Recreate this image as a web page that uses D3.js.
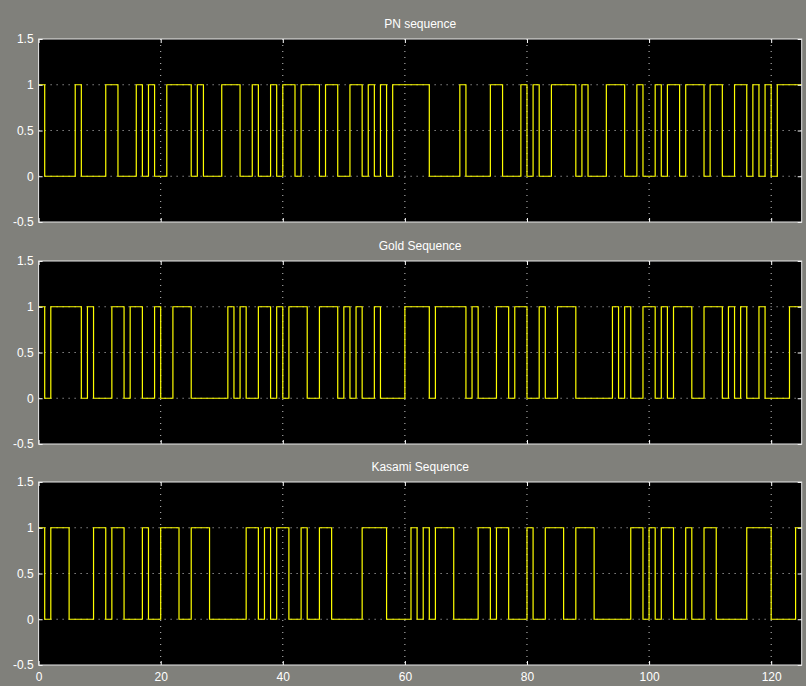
<!DOCTYPE html>
<html>
<head>
<meta charset="utf-8">
<script src="https://cdn.jsdelivr.net/npm/d3@7"></script>
<style>
  html, body { margin: 0; padding: 0; background: #80807b; }
  svg { display: block; }
  .tick text { font-family: "Liberation Sans", Arial, sans-serif; font-size: 12px; fill: #ffffff; }
</style>
</head>
<body>
<svg id="scope" width="806" height="686"></svg>
<script>
// bit values, one per sample 0..124
const pnBits = [
  1,0,0,0,0,0,1,0,0,0, 0,1,1,0,0,0,1,0,1,0, 0,1,1,1,1,0,1,0,0,0, 1,1,1,0,0,1,0,0,1,0,
  1,1,0,1,1,1,0,1,1,0, 0,1,1,0,1,0,1,0,1,1, 1,1,1,1,0,0,0,0,0,1, 0,0,0,0,1,1,0,0,0,1,
  0,1,0,0,1,1,1,1,0,1, 0,0,0,1,1,1,0,0,1,0, 0,1,0,1,1,0,1,1,1,0, 1,1,0,0,1,1,0,1,0,1,
  0,1,1,1,1
];
const goldBits = [
  1,0,1,1,1,1,1,0,1,0, 0,0,1,1,0,1,1,0,0,1, 0,0,1,1,1,0,0,0,0,0, 0,1,0,1,0,0,1,1,0,1,
  0,1,1,1,0,0,1,1,1,0, 1,0,1,0,0,1,0,0,0,0, 1,1,1,1,0,1,1,1,1,1, 0,1,0,0,0,1,1,0,1,1,
  0,0,1,0,0,1,1,1,0,0, 0,0,0,0,1,0,1,0,0,1, 1,0,1,0,1,1,1,0,0,1, 1,1,0,1,0,1,0,0,1,0,
  0,0,0,1,1
];
const kasamiBits = [
  1,0,1,1,1,0,0,0,0,1, 1,0,1,1,0,0,0,1,0,0, 1,1,1,0,0,1,1,1,0,0, 0,0,0,0,1,1,0,1,0,1,
  1,0,0,1,0,0,1,1,0,0, 0,0,0,1,1,1,1,0,0,0, 0,1,0,1,0,1,1,1,0,0, 0,0,1,1,0,1,1,0,0,0,
  1,0,0,1,1,1,0,0,1,1, 1,0,0,0,0,0,0,1,1,0, 1,0,1,1,0,0,1,0,0,1, 1,0,0,0,0,0,1,1,1,1,
  0,0,0,0,1
];
const titles = [ "PN sequence", "Gold Sequence", "Kasami Sequence" ];
const xTicks = [ 0, 20, 40, 60, 80, 100, 120 ];
const yTicks = [ -0.5, 0, 0.5, 1, 1.5 ];
const gridX = [ 20, 40, 60, 80, 100, 120 ];
const gridY = [ 0, 0.5, 1 ];

const svg = d3.select( "#scope" );
const LEFT = 38.6;
const RIGHT = 801.7;
const panelTops = [ 39, 261, 482 ];
const PANEL_H = 183;

const x = d3.scaleLinear().domain( [ 0, 125 ] ).range( [ LEFT, RIGHT ] );

const series = [ pnBits, goldBits, kasamiBits ];

series.forEach( ( bits, i ) => {
  const top = panelTops[i];
  const y = d3.scaleLinear().domain( [ -0.5, 1.5 ] ).range( [ top + PANEL_H, top ] );
  const g = svg.append( "g" );

  g.append( "rect" )
    .attr( "x", LEFT ).attr( "y", top )
    .attr( "width", RIGHT - LEFT ).attr( "height", PANEL_H )
    .attr( "fill", "#000" );

  // dotted grid
  g.selectAll( "line.gx" ).data( gridX ).enter().append( "line" )
    .attr( "x1", d => x( d ) ).attr( "x2", d => x( d ) )
    .attr( "y1", top ).attr( "y2", top + PANEL_H )
    .attr( "stroke", "#c8c8c8" ).attr( "stroke-width", 1 )
    .attr( "stroke-dasharray", "1,5" );
  g.selectAll( "line.gy" ).data( gridY ).enter().append( "line" )
    .attr( "x1", LEFT ).attr( "x2", RIGHT )
    .attr( "y1", d => y( d ) ).attr( "y2", d => y( d ) )
    .attr( "stroke", "#c8c8c8" ).attr( "stroke-width", 1 )
    .attr( "stroke-dasharray", "1,5" );

  const pts = bits.map( ( v, k ) => [ k, v ] );
  pts.push( [ bits.length, bits[bits.length - 1] ] );

  const line = d3.line()
    .x( d => x( d[0] ) )
    .y( d => y( d[1] ) )
    .curve( d3.curveStepAfter );

  g.append( "path" )
    .attr( "d", line( pts ) )
    .attr( "fill", "none" )
    .attr( "stroke", "#ffff00" )
    .attr( "stroke-width", 1.2 );

  // axes with inward ticks
  const yAxis = d3.axisLeft( y ).tickValues( yTicks ).tickSizeInner( -4 ).tickSizeOuter( 0 ).tickPadding( 6 )
    .tickFormat( d3.format( "" ) );
  const ya = g.append( "g" ).attr( "transform", `translate(${LEFT},0)` ).call( yAxis );
  ya.select( ".domain" ).remove();
  ya.selectAll( "line" ).attr( "stroke", "#fff" );
  ya.selectAll( "text" ).attr( "x", -5 ).text( d => d === -0.5 ? "-0.5" : d );

  const yr = g.append( "g" ).attr( "transform", `translate(${RIGHT},0)` )
    .call( d3.axisRight( y ).tickValues( yTicks ).tickSizeInner( -4 ).tickSizeOuter( 0 ).tickFormat( "" ) );
  yr.select( ".domain" ).remove();
  yr.selectAll( "line" ).attr( "stroke", "#fff" );

  const xt = g.append( "g" ).attr( "transform", `translate(0,${top})` )
    .call( d3.axisTop( x ).tickValues( xTicks ).tickSizeInner( -4 ).tickSizeOuter( 0 ).tickFormat( "" ) );
  xt.select( ".domain" ).remove();
  xt.selectAll( "line" ).attr( "stroke", "#fff" );

  const xb = g.append( "g" ).attr( "transform", `translate(0,${top + PANEL_H})` )
    .call( d3.axisBottom( x ).tickValues( xTicks ).tickSizeInner( -4 ).tickSizeOuter( 0 ).tickPadding( 7 )
      .tickFormat( i === 2 ? d3.format( "d" ) : "" ) );
  xb.select( ".domain" ).remove();
  xb.selectAll( "line" ).attr( "stroke", "#fff" );

  g.append( "rect" )
    .attr( "x", LEFT ).attr( "y", top )
    .attr( "width", RIGHT - LEFT ).attr( "height", PANEL_H )
    .attr( "fill", "none" ).attr( "stroke", "#e8e8e8" ).attr( "stroke-width", 1 );

  g.append( "text" )
    .attr( "x", ( LEFT + RIGHT ) / 2 ).attr( "y", top - 11 )
    .attr( "text-anchor", "middle" )
    .attr( "font-family", "Liberation Sans, Arial, sans-serif" )
    .attr( "font-size", 12 )
    .attr( "fill", "#fff" )
    .text( titles[i] );
} );
</script>
</body>
</html>
